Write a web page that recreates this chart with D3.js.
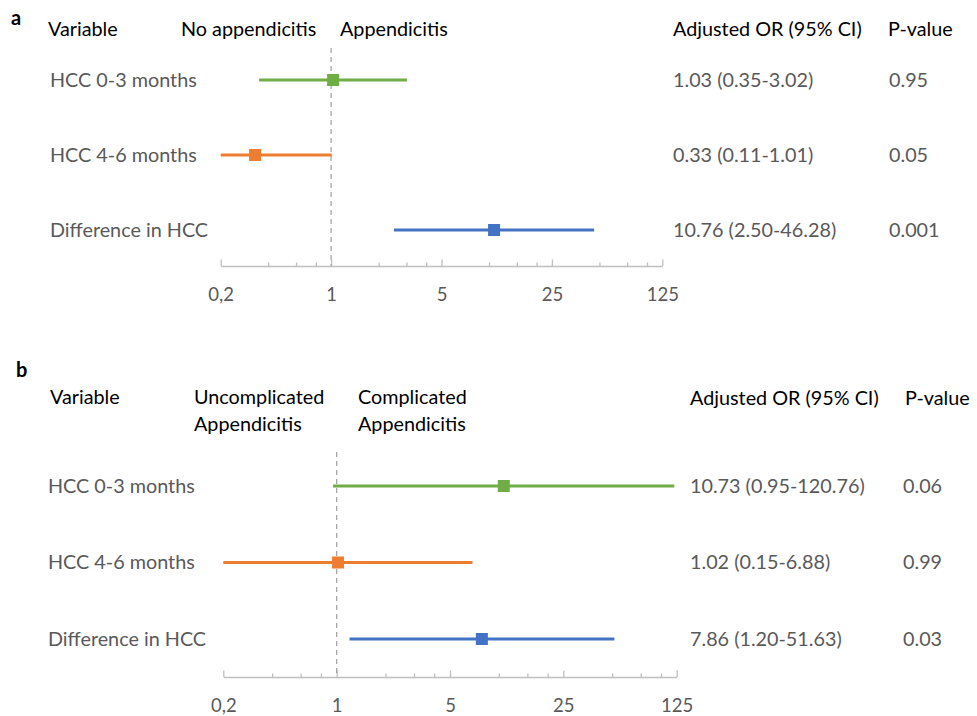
<!DOCTYPE html>
<html>
<head>
<meta charset="utf-8">
<script src="https://cdn.jsdelivr.net/npm/d3@7"></script>
<style>
  html, body { margin: 0; padding: 0; background: #fff; }
  svg { display: block; }
  text { font-family: Lato, "Open Sans", sans-serif; }
</style>
</head>
<body>
<svg id="chart" width="977" height="716"></svg>
<script>
// ---- Data ----
const categories = ["HCC 0-3 months", "HCC 4-6 months", "Difference in HCC"];
const seriesColors = ["#70AD47", "#ED7D31", "#4472C4"];

// Panel a: No appendicitis vs Appendicitis
const aOR   = [1.03, 0.33, 10.76];
const aLow  = [0.35, 0.11, 2.50];
const aHigh = [3.02, 1.01, 46.28];
const aCI   = ["1.03 (0.35-3.02)", "0.33 (0.11-1.01)", "10.76 (2.50-46.28)"];
const aP    = ["0.95", "0.05", "0.001"];

// Panel b: Uncomplicated vs Complicated appendicitis
const bOR   = [10.73, 1.02, 7.86];
const bLow  = [0.95, 0.15, 1.20];
const bHigh = [120.76, 6.88, 51.63];
const bCI   = ["10.73 (0.95-120.76)", "1.02 (0.15-6.88)", "7.86 (1.20-51.63)"];
const bP    = ["0.06", "0.99", "0.03"];

const majorTicks = [0.2, 1, 5, 25, 125];
const tickLabels = ["0,2", "1", "5", "25", "125"];
const minorTicks = [0.4, 0.6, 0.8, 2, 3, 4, 10, 15, 20, 50, 75, 100];

// ---- Drawing ----
const svg = d3.select("#chart");
const FS = 19.8;
const GRAY = "#595959";

function panel(cfg) {
  const g = svg.append("g");
  const x = d3.scaleLog().base(5).domain([0.2, 125]).range([cfg.x0, cfg.x1]).clamp(true);
  const y = d3.scalePoint().domain(categories).range([cfg.rowTop, cfg.rowBottom]);

  // panel letter
  g.append("text").attr("x", cfg.letterX).attr("y", cfg.letterY)
    .attr("font-family", "'Liberation Sans', Arial, sans-serif")
    .attr("font-weight", "bold").attr("font-size", 20).attr("fill", "#000")
    .text(cfg.letter);

  // headers
  cfg.headers.forEach(h => {
    g.append("text").attr("x", h.x).attr("y", h.y).attr("font-size", FS)
      .attr("fill", "#000").text(h.t);
  });

  // axis minor ticks
  const axisY = cfg.axisY;
  const minor = d3.axisBottom(x).tickValues(minorTicks).tickSizeInner(-3.5).tickSizeOuter(0).tickFormat("");
  const gm = g.append("g").attr("transform", `translate(0,${axisY})`).call(minor);
  gm.select(".domain").remove();
  gm.selectAll(".tick line").attr("stroke", "#BFBFBF").attr("stroke-width", 1.3);

  const major = d3.axisBottom(x).tickValues(majorTicks).tickSizeInner(-6.5).tickSizeOuter(0)
    .tickPadding(cfg.tickPad).tickFormat((d, i) => tickLabels[i]);
  const ga = g.append("g").attr("transform", `translate(0,${axisY})`).call(major);
  ga.select(".domain").attr("stroke", "#BFBFBF").attr("stroke-width", 1.5);
  ga.selectAll(".tick line").attr("stroke", "#BFBFBF").attr("stroke-width", 1.3);
  ga.selectAll(".tick text").attr("font-family", "Lato, sans-serif").attr("font-size", 18.5)
    .attr("fill", GRAY);

  // reference line at OR = 1
  g.append("line").attr("x1", x(1)).attr("x2", x(1))
    .attr("y1", cfg.refTop).attr("y2", axisY)
    .attr("stroke", "#A6A6A6").attr("stroke-width", 1.3).attr("stroke-dasharray", "5,4");

  // rows
  categories.forEach((c, i) => {
    const yy = y(c);
    g.append("text").attr("x", cfg.labelX).attr("y", yy + 6.8).attr("font-size", FS)
      .attr("fill", GRAY).text(c);
    g.append("line").attr("x1", x(cfg.low[i])).attr("x2", x(cfg.high[i]))
      .attr("y1", yy).attr("y2", yy).attr("stroke", seriesColors[i]).attr("stroke-width", 3);
    const s = 12;
    g.append("rect").attr("x", x(cfg.or[i]) - s / 2).attr("y", yy - s / 2)
      .attr("width", s).attr("height", s).attr("fill", seriesColors[i]);
    g.append("text").attr("x", cfg.ciX).attr("y", yy + 6.8).attr("font-size", FS)
      .attr("fill", GRAY).text(cfg.ci[i]);
    g.append("text").attr("x", cfg.pX).attr("y", yy + 6.8).attr("font-size", FS)
      .attr("fill", GRAY).text(cfg.p[i]);
  });
}

panel({
  letter: "a", letterX: 11, letterY: 25,
  headers: [
    { t: "Variable", x: 48, y: 36 },
    { t: "No appendicitis", x: 181, y: 36 },
    { t: "Appendicitis", x: 340, y: 36 },
    { t: "Adjusted OR (95% CI)", x: 673, y: 36 },
    { t: "P-value", x: 888, y: 36 }
  ],
  x0: 220.7, x1: 662.3, axisY: 266, tickPad: 22, refTop: 48,
  rowTop: 80, rowBottom: 230, labelX: 50, ciX: 673, pX: 889,
  or: aOR, low: aLow, high: aHigh, ci: aCI, p: aP
});

panel({
  letter: "b", letterX: 16, letterY: 377,
  headers: [
    { t: "Variable", x: 50, y: 404 },
    { t: "Uncomplicated", x: 194, y: 404 },
    { t: "Appendicitis", x: 194, y: 431 },
    { t: "Complicated", x: 358, y: 404 },
    { t: "Appendicitis", x: 358, y: 431 },
    { t: "Adjusted OR (95% CI)", x: 690, y: 405 },
    { t: "P-value", x: 905, y: 405 }
  ],
  x0: 223.3, x1: 676.7, axisY: 677, tickPad: 22, refTop: 452,
  rowTop: 486, rowBottom: 639, labelX: 48, ciX: 690, pX: 903,
  or: bOR, low: bLow, high: bHigh, ci: bCI, p: bP
});
</script>
</body>
</html>
